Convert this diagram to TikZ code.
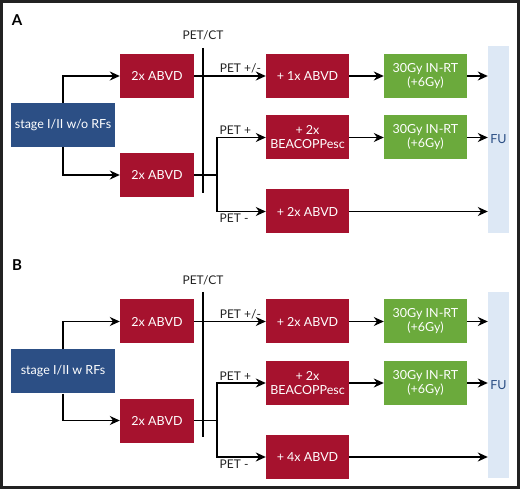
\documentclass[tikz,border=0pt]{standalone}
\usepackage{fontspec}
\setmainfont{Lato}
\usetikzlibrary{positioning, arrows.meta}
\definecolor{abvdred}{HTML}{A6122E}
\definecolor{stageblue}{HTML}{2C4F85}
\definecolor{rtgreen}{HTML}{6BAA3C}
\definecolor{fublue}{HTML}{DDE8F5}
\definecolor{inkgray}{HTML}{222222}
\tikzset{
  box/.style={minimum height=44pt, inner sep=0pt, text=white, align=center, font=\fontsize{12.5}{14}\selectfont},
  stagebox/.style={box, fill=stageblue, minimum width=104pt},
  firstbox/.style={box, fill=abvdred, minimum width=74pt},
  chemobox/.style={box, fill=abvdred, minimum width=83pt},
  rtbox/.style={box, fill=rtgreen, minimum width=83pt},
  fubar/.style={fill=fublue, minimum width=21pt, inner sep=0pt, text=stageblue, font=\fontsize{12.5}{14}\selectfont},
  lbl/.style={text=inkgray, inner sep=2pt, font=\fontsize{12}{14}\selectfont},
  panel/.style={text=black, font=\fontsize{15}{17}\selectfont\bfseries},
  arr/.style={-{Stealth[length=10pt, width=9pt]}, line width=1.4pt, draw=black},
  plain/.style={line width=1.4pt, draw=black}
}

\begin{document}
\begin{tikzpicture}[x=1pt, y=-1pt]
            \useasboundingbox (0,0) rectangle (520,489);
            \draw [line width=3pt, draw=inkgray] (1.5,1.5) rectangle (518.5,487.5);

            \node [panel] (labA) at (17,20) {A};
            \node [lbl] (petctA) at (203,35) {PET/CT};
            \coordinate (ctA1) at (203,48);
            \coordinate (ctA2) at (203,193);
            \coordinate (splitA) at (217,175);

            \node [stagebox] (stageA) at (63,125) {stage I/II w/o RFs};
            \node [firstbox] (abvd1A) at (157,76) {2x ABVD};
            \node [firstbox] (abvd2A) at (157,175) {2x ABVD};
            \node [chemobox] (r1A) at (307.5,76) {+ 1x ABVD};
            \node [chemobox] (r2A) at (307.5,137.5) {+ 2x\\BEACOPPesc};
            \node [chemobox] (r3A) at (307.5,211.5) {+ 2x ABVD};
            \node [rtbox] (g1A) at (425.5,76) {30Gy IN-RT\\(+6Gy)};
            \node [rtbox] (g2A) at (425.5,137.5) {30Gy IN-RT\\(+6Gy)};
            \node [fubar, minimum height=187pt] (fuA) at (498.5,139.5) {FU};

            \draw [plain] (ctA1) -- (ctA2);
            \draw [arr] (stageA.north) |- (abvd1A.west);
            \draw [arr] (stageA.south) |- (abvd2A.west);
            \draw [arr] (abvd1A.east) -- (r1A.west) node [lbl, pos=0.32, anchor=south west] {PET +/-};
            \draw [plain] (abvd2A.east) -- (splitA);
            \draw [arr] (splitA) |- (r2A.west) node [lbl, pos=0.5, anchor=south west] {PET +};
            \draw [arr] (splitA) |- (r3A.west) node [lbl, pos=0.5, anchor=north west] {PET -};
            \draw [arr] (r1A.east) -- (g1A.west);
            \draw [arr] (r2A.east) -- (g2A.west);
            \draw [arr] (g1A.east) -- (g1A.east -| fuA.west);
            \draw [arr] (g2A.east) -- (g2A.east -| fuA.west);
            \draw [arr] (r3A.east) -- (r3A.east -| fuA.west);

            \node [panel] (labB) at (17,265) {B};
            \node [lbl] (petctB) at (203,280) {PET/CT};
            \coordinate (ctB1) at (203,292);
            \coordinate (ctB2) at (203,437);
            \coordinate (splitB) at (217,420.5);

            \node [stagebox] (stageB) at (63,371.5) {stage I/II w RFs};
            \node [firstbox] (abvd1B) at (157,321.5) {2x ABVD};
            \node [firstbox] (abvd2B) at (157,420.5) {2x ABVD};
            \node [chemobox] (r1B) at (307.5,321.5) {+ 2x ABVD};
            \node [chemobox] (r2B) at (307.5,383) {+ 2x\\BEACOPPesc};
            \node [chemobox] (r3B) at (307.5,457) {+ 4x ABVD};
            \node [rtbox] (g1B) at (425.5,321.5) {30Gy IN-RT\\(+6Gy)};
            \node [rtbox] (g2B) at (425.5,383) {30Gy IN-RT\\(+6Gy)};
            \node [fubar, minimum height=186pt] (fuB) at (498.5,385) {FU};

            \draw [plain] (ctB1) -- (ctB2);
            \draw [arr] (stageB.north) |- (abvd1B.west);
            \draw [arr] (stageB.south) |- (abvd2B.west);
            \draw [arr] (abvd1B.east) -- (r1B.west) node [lbl, pos=0.32, anchor=south west] {PET +/-};
            \draw [plain] (abvd2B.east) -- (splitB);
            \draw [arr] (splitB) |- (r2B.west) node [lbl, pos=0.5, anchor=south west] {PET +};
            \draw [arr] (splitB) |- (r3B.west) node [lbl, pos=0.5, anchor=north west] {PET -};
            \draw [arr] (r1B.east) -- (g1B.west);
            \draw [arr] (r2B.east) -- (g2B.west);
            \draw [arr] (g1B.east) -- (g1B.east -| fuB.west);
            \draw [arr] (g2B.east) -- (g2B.east -| fuB.west);
            \draw [arr] (r3B.east) -- (r3B.east -| fuB.west);
        \end{tikzpicture}
\end{document}
